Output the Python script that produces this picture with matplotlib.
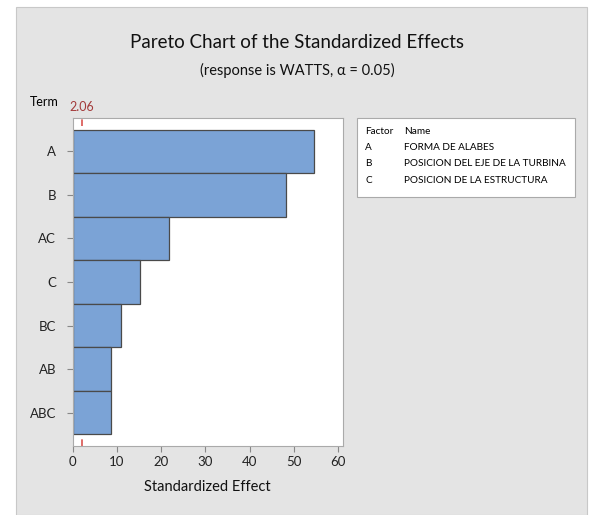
import matplotlib
matplotlib.use('Agg')
import matplotlib.pyplot as plt
from matplotlib.patches import Rectangle

# Data
terms = ['A', 'B', 'AC', 'C', 'BC', 'AB', 'ABC']
effects = [54.5, 48.2, 21.8, 15.3, 10.8, 8.6, 8.6]
ref_value = 2.06
factors = ['A', 'B', 'C']
factor_names = ['FORMA DE ALABES', 'POSICION DEL EJE DE LA TURBINA', 'POSICION DE LA ESTRUCTURA']

plt.rcParams['font.family'] = ['Lato', 'DejaVu Sans']

W, H = 594, 515
fig = plt.figure(figsize=(W / 100, H / 100), dpi=100)
fig.patch.set_facecolor('white')
# gray panel behind everything
fig.patches.append(Rectangle((16 / W, 0), (587 - 16) / W, 1 - 7 / H, transform=fig.transFigure,
                             facecolor='#e4e4e4', edgecolor='#c8c8c8', lw=0.8, zorder=-1))

ax = fig.add_axes([72.7 / W, 1 - 446 / H, (342.7 - 72.7) / W, (446 - 118) / H])
ax.set_facecolor('white')

y = list(range(len(terms)))
ax.barh(y, effects, height=1.0, color='#7ba3d6', edgecolor='#4a4a4a', lw=0.9)
ax.set_ylim(len(terms) - 0.5 + 0.27, -0.5 - 0.27)
ax.set_xlim(0, 61)
ax.axvline(ref_value, color='#d9534f', lw=1.2, ls=(0, (4, 4)), zorder=0)

ax.set_yticks(y)
ax.set_yticklabels(terms, fontsize=9.5, color='#222222')
ax.set_xticks([0, 10, 20, 30, 40, 50, 60])
ax.tick_params(axis='x', labelsize=9.5, length=4, color='#888888', labelcolor='#222222')
ax.tick_params(axis='y', length=4, color='#888888', pad=8)
for s in ax.spines.values():
    s.set_color('#aaaaaa')

ax.set_xlabel('Standardized Effect', fontsize=10.5, labelpad=8, color='#111111')
ax.text(-0.05, 1.03, 'Term', transform=ax.transAxes, fontsize=9, ha='right', va='bottom')
ax.text(ref_value, 1.015, '2.06', transform=ax.get_xaxis_transform(), fontsize=9,
        color='#a33a3a', ha='center', va='bottom')

fig.text(0.5, 1 - 43 / H, 'Pareto Chart of the Standardized Effects', fontsize=13.5,
         ha='center', va='center', color='#111111')
fig.text(0.5, 1 - 70 / H, '(response is WATTS, α = 0.05)', fontsize=10.5,
         ha='center', va='center', color='#111111')

# factor legend box
fig.patches.append(Rectangle((357 / W, 1 - 197 / H), (575 - 357) / W, (197 - 118) / H,
                             transform=fig.transFigure, facecolor='white',
                             edgecolor='#aaaaaa', lw=0.8))
rows = [('Factor', 'Name')] + list(zip(factors, factor_names))
for i, (f, n) in enumerate(rows):
    yy = 1 - (131 + i * 16.5) / H
    fig.text(365 / W, yy, f, fontsize=7.2, va='center')
    fig.text(404 / W, yy, n, fontsize=7.2, va='center')

fig.savefig('out.png', dpi=100)
